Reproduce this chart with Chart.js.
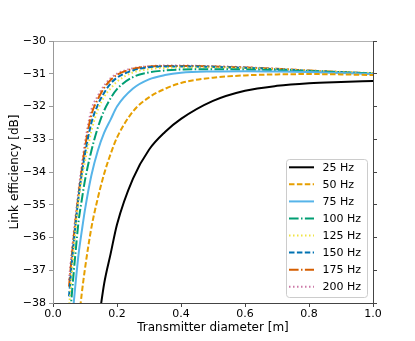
<!DOCTYPE html>
<html>
<head>
<meta charset="utf-8">
<script src="https://cdn.jsdelivr.net/npm/chart.js@4.4.1/dist/chart.umd.min.js"></script>
<style>
html,body{margin:0;padding:0;background:#fff;}
#wrap{width:415px;height:341px;position:relative;}
</style>
</head>
<body>
<div id="wrap"><canvas id="c" width="415" height="341"></canvas></div>
<script>
// Transmitter diameter [m]
const diameters = [0.05,0.06,0.07,0.08,0.09,0.1,0.12,0.14,0.16,0.18,0.2,0.25,0.3,0.35,0.4,0.5,0.6,0.7,0.8,0.9,1.0];
// Link efficiency [dB] per frequency
const hz25  = [null,null,null,null,null,null,null,-38.75,-37.4,-36.5,-35.6,-34.2,-33.32,-32.78,-32.38,-31.83,-31.52,-31.37,-31.29,-31.25,-31.22];
const hz50  = [null,null,null,-38.6,-37.7,-36.95,-35.7,-34.8,-34.05,-33.45,-32.95,-32.15,-31.72,-31.46,-31.28,-31.12,-31.05,-31.02,-31.01,-31.02,-31.04];
const hz75  = [null,-38.5,-37.45,-36.5,-35.8,-35.15,-34.1,-33.35,-32.8,-32.4,-32.0,-31.45,-31.17,-31.04,-30.97,-30.93,-30.92,-30.93,-30.95,-30.98,-31.01];
const hz100 = [-38.8,-37.6,-36.5,-35.5,-34.85,-34.25,-33.35,-32.65,-32.12,-31.75,-31.47,-31.1,-30.96,-30.9,-30.87,-30.86,-30.87,-30.89,-30.92,-30.96,-30.99];
const hz125 = [-38.15,-37.0,-35.8,-34.85,-34.2,-33.68,-32.75,-32.1,-31.7,-31.45,-31.24,-30.96,-30.86,-30.82,-30.81,-30.81,-30.83,-30.86,-30.9,-30.94,-30.98];
const hz150 = [-37.8,-36.65,-35.65,-34.75,-34.05,-33.45,-32.5,-31.95,-31.58,-31.3,-31.12,-30.9,-30.8,-30.78,-30.78,-30.79,-30.82,-30.86,-30.91,-30.95,-30.99];
const hz175 = [-37.5,-36.45,-35.52,-34.68,-33.92,-33.25,-32.25,-31.78,-31.43,-31.19,-31.03,-30.85,-30.78,-30.76,-30.76,-30.78,-30.81,-30.85,-30.9,-30.95,-30.99];
const hz200 = [-37.3,-36.3,-35.4,-34.55,-33.8,-33.1,-32.1,-31.68,-31.36,-31.14,-31.0,-30.83,-30.77,-30.75,-30.75,-30.77,-30.8,-30.85,-30.9,-30.95,-30.99];
const seriesLabels = ['25 Hz','50 Hz','75 Hz','100 Hz','125 Hz','150 Hz','175 Hz','200 Hz'];
const seriesValues = [hz25,hz50,hz75,hz100,hz125,hz150,hz175,hz200];
const xTicks = [0,0.2,0.4,0.6,0.8,1.0];
const yTicks = [-38,-37,-36,-35,-34,-33,-32,-31,-30];

const colors = ['#000000','#E69F00','#56B4E9','#009E73','#F0E442','#0072B2','#D55E00','#CC79A7'];
const dashes = [[],[5.5,2.4],[],[9.6,2.4,1.5,2.4],[1.5,2.5],[5.5,2.4],[9.6,2.4,1.5,2.4],[1.5,2.5]];
const FONT = 'DejaVu Sans';

const datasets = seriesValues.map((vals,i)=>({
  label: seriesLabels[i],
  data: diameters.map((d,j)=>({x:d,y:vals[j]})),
  borderColor: colors[i],
  backgroundColor: colors[i],
  borderWidth: 2,
  borderDash: dashes[i],
  pointRadius: 0,
  fill: false,
  cubicInterpolationMode: 'monotone',
  spanGaps: false
}));

const legendPlugin = {
  id: 'boxLegend',
  afterDraw(chart){
    const ctx = chart.ctx, ca = chart.chartArea;
    const w = 81, h = 138;
    const x0 = ca.right - 6 - w, y0 = ca.bottom - 6 - h;
    ctx.save();
    ctx.beginPath();
    if (ctx.roundRect) ctx.roundRect(x0+0.5,y0+0.5,w,h,3); else ctx.rect(x0+0.5,y0+0.5,w,h);
    ctx.fillStyle = 'rgba(255,255,255,0.8)';
    ctx.fill();
    ctx.strokeStyle = '#cccccc';
    ctx.lineWidth = 1;
    ctx.stroke();
    chart.data.datasets.forEach((ds,i)=>{
      const yy = y0 + 8.3 + i*17.06;
      ctx.beginPath();
      ctx.setLineDash(ds.borderDash||[]);
      ctx.strokeStyle = ds.borderColor;
      ctx.lineWidth = 2;
      ctx.moveTo(x0+3, yy);
      ctx.lineTo(x0+28, yy);
      ctx.stroke();
      ctx.setLineDash([]);
      ctx.fillStyle = '#000';
      ctx.font = '11px "'+FONT+'"';
      ctx.textBaseline = 'middle';
      ctx.textAlign = 'left';
      ctx.fillText(ds.label, x0+36.5, yy+0.5);
    });
    ctx.restore();
  }
};

const tickFont = {family: FONT, size: 11};
const fmtMinus = v => String(v).replace('-', '\u2212');

new Chart(document.getElementById('c'), {
  type: 'line',
  data: {datasets},
  options: {
    responsive: false,
    animation: false,
    layout: {padding: 0},
    plugins: {legend: {display: false}, tooltip: {enabled: false}},
    scales: {
      x: {
        type: 'linear', position: 'bottom', min: 0, max: 1,
        afterBuildTicks: s => { s.ticks = xTicks.map(v=>({value:v})); },
        afterFit: s => { s.height = 38; },
        ticks: {font: tickFont, color: '#000', padding: 1, maxRotation: 0, callback: v => Number(v).toFixed(1)},
        grid: {drawOnChartArea: false, drawTicks: true, tickLength: 4, color: '#444'},
        border: {display: true, color: '#444', width: 1},
        title: {display: true, text: 'Transmitter diameter [m]', font: {family: FONT, size: 12}, color: '#000', padding: {top: 0, bottom: 6}}
      },
      x2: {
        type: 'linear', position: 'top', min: 0, max: 1,
        afterFit: s => { s.height = 41; },
        ticks: {display: false},
        grid: {display: false, drawTicks: false},
        border: {display: true, color: '#b0b0b0', width: 1}
      },
      y: {
        type: 'linear', position: 'left', min: -38, max: -30,
        afterBuildTicks: s => { s.ticks = yTicks.map(v=>({value:v})); },
        afterFit: s => { s.width = 53; },
        ticks: {font: tickFont, color: '#000', padding: 3, callback: v => fmtMinus(v)},
        grid: {drawOnChartArea: false, drawTicks: true, tickLength: 4, color: '#999'},
        border: {display: true, color: '#999', width: 1},
        title: {display: true, text: 'Link efficiency [dB]', font: {family: FONT, size: 12}, color: '#000', padding: {top: 8, bottom: 0}}
      },
      y2: {
        type: 'linear', position: 'right', min: -38, max: -30,
        afterBuildTicks: s => { s.ticks = yTicks.map(v=>({value:v})); },
        afterFit: s => { s.width = 42; },
        ticks: {display: false},
        grid: {drawOnChartArea: false, drawTicks: true, tickLength: 4, color: '#444'},
        border: {display: true, color: '#444', width: 1}
      }
    }
  },
  plugins: [legendPlugin]
});
</script>
</body>
</html>
